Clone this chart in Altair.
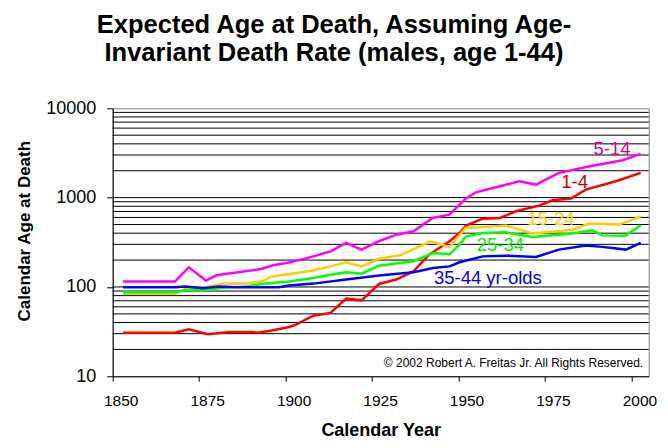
import altair as alt
import pandas as pd

# ---- data ----
series_names = ["5-14", "1-4", "15-24", "25-34", "35-44"]
line_colors = ["#FF00FF", "#FF0000", "#FFCC00", "#00FF00", "#0000FF"]

years_5_14 = [1853, 1868, 1872, 1877, 1880, 1884.7, 1893, 1896.4, 1901, 1905, 1908, 1913,
              1917.5, 1922, 1927, 1932, 1937, 1942.5, 1947.4, 1950.3, 1952, 1955, 1962,
              1967.5, 1972.5, 1979, 1988, 1997.5, 2002.7]
vals_5_14 = [115, 115, 166, 118, 135, 143, 159, 175, 188, 205, 220, 250,
             311, 262, 325, 385, 420, 593, 645, 833, 967, 1147, 1340,
             1524, 1400, 1892, 2246, 2621, 3090]

years_1_4 = [1853, 1868, 1872, 1877.5, 1884, 1890, 1892, 1896, 1901, 1903, 1908, 1913,
             1917.5, 1922, 1927, 1932, 1937, 1941.5, 1947.4, 1950.3, 1952.2, 1957, 1962,
             1966.6, 1973.3, 1977.2, 1982.5, 1986.8, 1995.5, 2002.7]
vals_1_4 = [30.8, 30.8, 33.5, 29.5, 31.3, 31.3, 30.8, 32.5, 35.6, 37.8, 47.7, 51.2,
            74, 70.8, 108, 121, 150, 230, 325, 402, 486, 581, 593,
            703, 813, 933, 975, 1230, 1524, 1892]

years_15_24 = [1853, 1868, 1871, 1877, 1882, 1888, 1893, 1896, 1901, 1908, 1913, 1917.5,
               1922, 1927, 1933, 1942, 1947.4, 1950, 1952, 1957, 1963.7, 1971.4, 1983,
               1987.8, 1996.5, 2002.7]
vals_15_24 = [84, 84, 95, 100, 109, 109, 115, 131, 140, 153, 170, 189,
              170, 207, 226, 324, 278, 369, 457, 469, 486, 396, 438,
              512, 499, 618]

years_25_34 = [1853, 1868, 1871, 1877, 1881, 1888.7, 1893, 1901, 1908, 1913, 1917.5, 1922,
               1927, 1937, 1942.6, 1947.4, 1950.3, 1952.2, 1957, 1963.7, 1971.4, 1983,
               1988.7, 1991.6, 1998.2, 2002.7]
vals_25_34 = [87, 87, 91.6, 92, 97.5, 101.5, 108, 115, 126, 137, 146, 141,
              173, 194, 240, 232, 298, 369, 402, 409, 363, 396,
              431, 378, 375, 490]

years_35_44 = [1853, 1868, 1871, 1876, 1881, 1886, 1898, 1901, 1908, 1917.5, 1927, 1937,
               1942.6, 1947.4, 1950.3, 1957, 1963.7, 1972.4, 1979, 1986.8, 1991.6, 1998.4,
               2002.7]
vals_35_44 = [99, 99, 101.5, 96.5, 101.5, 99, 99, 104, 109, 121, 134, 146,
              163, 170, 189, 220, 224, 217, 262, 292, 281, 262,
              311]

label_texts = ["5-14", "1-4", "15-24", "25-34", "35-44 yr-olds"]
label_years = [1994.4, 1983.6, 1976.7, 1962.1, 1958.5]
label_values = [3027, 1294, 499, 250, 109]
label_colors = ["#CC0099", "#CC0000", "#FFCC00", "#00EE00", "#0000EE"]

x_ticks = [1850, 1875, 1900, 1925, 1950, 1975, 2000]
y_ticks = [10, 100, 1000, 10000]
grid_values = [20, 30, 40, 50, 60, 70, 80, 90, 100,
               200, 300, 400, 500, 600, 700, 800, 900, 1000,
               2000, 3000, 4000, 5000, 6000, 7000, 8000, 9000]

title_lines = ["Expected Age at Death, Assuming Age-", "Invariant Death Rate (males, age 1-44)"]
copyright_text = "\u00a9 2002 Robert A. Freitas Jr. All Rights Reserved."

# ---- build tables ----
rows = []
for name, ys, vs in zip(series_names,
                        [years_5_14, years_1_4, years_15_24, years_25_34, years_35_44],
                        [vals_5_14, vals_1_4, vals_15_24, vals_25_34, vals_35_44]):
    for yr, v in zip(ys, vs):
        rows.append({"series": name, "year": yr, "value": v})
df = pd.DataFrame(rows)
labels_df = pd.DataFrame({"text": label_texts, "year": label_years,
                          "value": label_values, "color": label_colors})
grid_df = pd.DataFrame({"g": grid_values})

FONT = "Liberation Sans"
W, H = 536, 268

xscale = alt.Scale(domain=[1850, 2005], nice=False, zero=False)
yscale = alt.Scale(type="log", domain=[10, 10000], nice=False)

x_axis = alt.Axis(values=x_ticks, format="d", grid=False, tickSize=5, tickColor="black",
                  domainColor="black", labelColor="black", labelFont=FONT, labelFontSize=15.5,
                  labelPadding=12, labelOffset=8, labelFlush=False, labelOverlap=False,
                  title="Calendar Year", titleFont=FONT, titleFontSize=18, titleFontWeight="bold",
                  titleColor="black", titleX=268, titleY=54.5, titleAlign="center",
                  titleBaseline="middle")
y_axis = alt.Axis(values=y_ticks, format="d", grid=False, tickSize=6, tickColor="black",
                  domainColor="black", labelColor="black", labelFont=FONT, labelFontSize=18,
                  labelPadding=11, labelFlush=False, labelOverlap=False,
                  title="Calendar Age at Death", titleFont=FONT, titleFontSize=17,
                  titleFontWeight="bold", titleColor="black", titleAngle=270,
                  titleX=-87.7, titleY=122.4, titleAlign="center", titleBaseline="middle")

grid = alt.Chart(grid_df).mark_rule(color="black", strokeWidth=1).encode(
    y=alt.Y("g:Q", scale=yscale, axis=y_axis)
)

lines = alt.Chart(df).mark_line(strokeWidth=2.5).encode(
    x=alt.X("year:Q", scale=xscale, axis=x_axis),
    y=alt.Y("value:Q", scale=yscale, axis=y_axis),
    color=alt.Color("series:N", scale=alt.Scale(domain=series_names, range=line_colors),
                    legend=None),
)

labels = alt.Chart(labels_df).mark_text(font=FONT, fontSize=18.5, align="center",
                                        baseline="alphabetic").encode(
    x=alt.X("year:Q", scale=xscale, axis=x_axis),
    y=alt.Y("value:Q", scale=yscale, axis=y_axis),
    text="text:N",
    color=alt.Color("color:N", scale=None),
)

one = alt.Data(values=[{"a": 1}])
title1 = alt.Chart(one).mark_text(font=FONT, fontSize=25.5, fontWeight="bold", align="center",
                                  baseline="alphabetic", color="black").encode(
    x=alt.value(221.3), y=alt.value(-75), text=alt.value(title_lines[0]))
title2 = alt.Chart(one).mark_text(font=FONT, fontSize=25.5, fontWeight="bold", align="center",
                                  baseline="alphabetic", color="black").encode(
    x=alt.value(221.3), y=alt.value(-47.6), text=alt.value(title_lines[1]))
copyright = alt.Chart(one).mark_text(font=FONT, fontSize=12, align="center",
                                     baseline="middle", color="black").encode(
    x=alt.value(400.8), y=alt.value(254.4), text=alt.value(copyright_text))

chart = alt.layer(grid, lines, labels, copyright, title1, title2).properties(
    width=W, height=H,
    autosize=alt.AutoSizeParams(type="none"),
    padding={"left": 104.7, "top": 100.3, "right": 11, "bottom": 63.5},
    background="white",
).configure_view(stroke="#808080", strokeWidth=1)

chart.save("out.html", embed_options={"renderer": "svg", "actions": False})
